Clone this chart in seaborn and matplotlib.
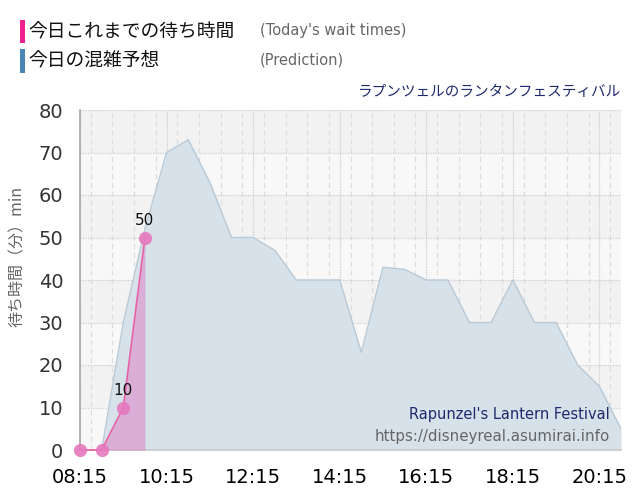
import matplotlib
matplotlib.use("Agg")
import matplotlib.pyplot as plt
import matplotlib.ticker as mticker
from matplotlib.patches import Rectangle
import pandas as pd
import seaborn as sns

# today's observed wait times (minutes)
actual_times = ["08:15", "08:45", "09:15", "09:45"]
actual_waits = [0, 0, 10, 50]
labelled_points = [10, 50]

# predicted wait times, every 30 minutes
pred_times = ["08:15", "08:45", "09:15", "09:45", "10:15", "10:45", "11:15", "11:45",
              "12:15", "12:45", "13:15", "13:45", "14:15", "14:45", "15:15", "15:45",
              "16:15", "16:45", "17:15", "17:45", "18:15", "18:45", "19:15", "19:45",
              "20:15", "20:45"]
pred_waits = [0, 0, 30, 52, 70, 73, 63, 50,
              50, 47, 40, 40, 40, 23, 43, 42.5,
              40, 40, 30, 30, 40, 30, 30, 20,
              15, 5]

x_ticks = ["08:15", "10:15", "12:15", "14:15", "16:15", "18:15", "20:15"]
y_ticks = [0, 10, 20, 30, 40, 50, 60, 70, 80]


def to_hours(t):
    h, m = t.split(":")
    return int(h) + int(m) / 60


actual = pd.DataFrame({"hour": [to_hours(t) for t in actual_times], "wait": actual_waits})
pred = pd.DataFrame({"hour": [to_hours(t) for t in pred_times], "wait": pred_waits})

sns.set_theme(style="white")
CJK = ["Noto Sans CJK JP", "DejaVu Sans"]
plt.rcParams["font.family"] = ["DejaVu Sans"]

fig = plt.figure(figsize=(6.4, 5.0), dpi=100)
ax = fig.add_axes([80 / 640, 50 / 500, 541 / 640, 340 / 500])

# background bands
ax.set_facecolor("#f2f2f2")
for lo in y_ticks[:-1:2]:
    ax.axhspan(lo, lo + 10, color="#f8f8f8", zorder=0, lw=0)

# grid
ax.set_xlim(pred["hour"].iloc[0], pred["hour"].iloc[-1])
ax.set_ylim(0, 80)
ax.xaxis.set_major_locator(mticker.FixedLocator([to_hours(t) for t in x_ticks]))
ax.xaxis.set_minor_locator(mticker.MultipleLocator(0.5))
ax.set_xticklabels(x_ticks)
ax.set_yticks(y_ticks)
ax.grid(which="major", axis="x", color="#cccccc", ls=(0, (1, 1)), lw=0.9, zorder=1)
ax.grid(which="minor", axis="x", color="#dddddd", ls=(0, (4, 3)), lw=0.9, zorder=1)
ax.grid(which="major", axis="y", color="#cfcfcf", ls=(0, (1, 1)), lw=0.9, zorder=1)
ax.set_axisbelow(True)

# prediction area
ax.fill_between(pred["hour"], pred["wait"], 0, color="#d6e1e9", lw=0, zorder=2)
sns.lineplot(data=pred, x="hour", y="wait", ax=ax, color="#b9c9d6", lw=1.0, zorder=3)

# actual series
act_fill = actual.iloc[1:]
ax.fill_between(act_fill["hour"], act_fill["wait"], 0, color="#e070c0", alpha=0.45, lw=0, zorder=4)
sns.lineplot(data=actual, x="hour", y="wait", ax=ax, color="#e8559f", lw=1.2, zorder=5,
             marker="o", markersize=9.5, markerfacecolor="#e678bd", markeredgewidth=0,
             alpha=0.9, clip_on=False)
for h, w in zip(actual["hour"], actual["wait"]):
    if w in labelled_points:
        ax.annotate(f"{w}", (h, w), xytext=(0, 7), textcoords="offset points",
                    ha="center", va="bottom", fontsize=11, color="#111111", zorder=6)

ax.set_xlabel("")
ax.set_ylabel("")
for side in ["top", "right"]:
    ax.spines[side].set_visible(False)
ax.spines["left"].set_color("#aaaaaa")
ax.spines["bottom"].set_color("#cccccc")
ax.tick_params(axis="y", which="major", length=11, color="#dddddd", pad=1,
               labelsize=14, labelcolor="#333333")
ax.tick_params(axis="x", which="major", length=11, color="#cccccc", pad=2,
               labelsize=14, labelcolor="#000000")
ax.tick_params(axis="x", which="minor", length=0)

# watermark text
ax.text(0.98, 0.103, "Rapunzel's Lantern Festival", transform=ax.transAxes,
        ha="right", va="center", fontsize=10.5, color="#1f2a6e", zorder=7)
ax.text(0.98, 0.041, "https://disneyreal.asumirai.info", transform=ax.transAxes,
        ha="right", va="center", fontsize=10.8, color="#666666", zorder=7)

# y label
fig.text(17 / 640, 1 - 256 / 500, "待ち時間（分）min", rotation=90, ha="center", va="center",
         fontsize=11.5, color="#666666", family=CJK)

# legend
fig.add_artist(Rectangle((20 / 640, 1 - 43 / 500), 5 / 640, 23 / 500,
                         transform=fig.transFigure, color="#f0218f", lw=0))
fig.add_artist(Rectangle((20 / 640, 1 - 73 / 500), 5 / 640, 24 / 500,
                         transform=fig.transFigure, color="#4a87b8", lw=0))
fig.text(28 / 640, 1 - 32 / 500, "今日これまでの待ち時間", ha="left", va="center",
         fontsize=13.5, color="#111111", family=CJK)
fig.text(28 / 640, 1 - 61 / 500, "今日の混雑予想", ha="left", va="center",
         fontsize=13.5, color="#111111", family=CJK)
fig.text(260 / 640, 1 - 31 / 500, "(Today's wait times)", ha="left", va="center",
         fontsize=10.5, color="#666666")
fig.text(260 / 640, 1 - 60 / 500, "(Prediction)", ha="left", va="center",
         fontsize=10.5, color="#666666")
fig.text(621 / 640, 1 - 92 / 500, "ラプンツェルのランタンフェスティバル", ha="right", va="center",
         fontsize=10.5, color="#1f2a6e", family=CJK)

fig.savefig("out.png", dpi=100)
